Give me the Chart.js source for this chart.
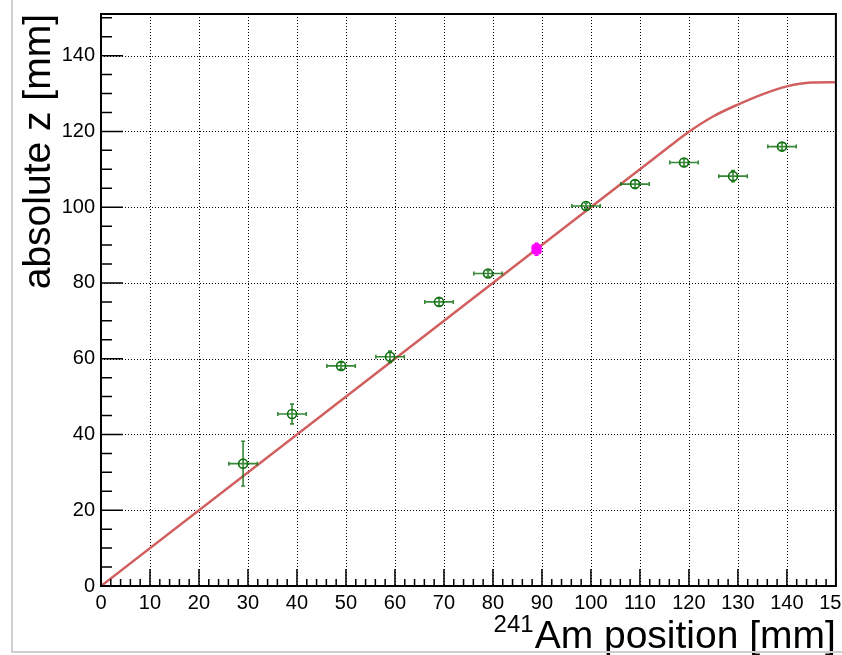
<!DOCTYPE html>
<html>
<head>
<meta charset="utf-8">
<script src="https://cdn.jsdelivr.net/npm/chart.js@4/dist/chart.umd.min.js"></script>
<style>
  html, body { margin: 0; padding: 0; background: #fff; }
  canvas { display: block; }
</style>
</head>
<body>
<canvas id="zChart" width="842" height="655"></canvas>
<script>
// measured source positions (green) with errors
const posX = [29, 39, 49, 59, 69, 79, 99, 109, 119, 129, 139]
const posXErr = [2.9, 2.9, 2.9, 2.9, 2.9, 2.9, 2.9, 2.9, 2.9, 2.9, 2.9]
const zVal = [32.3, 45.4, 58.1, 60.5, 75.0, 82.5, 100.3, 106.1, 111.8, 108.2, 116.0]
const zErr = [5.9, 2.6, 0.9, 1.5, 1.0, 0.8, 0.8, 1.0, 1.0, 1.5, 1.0]

// reference point (magenta)
const refX = [88.9]
const refZ = [88.9]
const refZErr = [1.6]

// expected curve
const curveX = [0, 60, 110, 116, 120, 125, 130, 135, 140, 145, 150]
const curveZ = [0, 60, 110, 116, 119.9, 124.0, 127.1, 129.8, 131.9, 132.9, 133.0]

// axis ticks
const xTicks = [0, 10, 20, 30, 40, 50, 60, 70, 80, 90, 100, 110, 120, 130, 140, 150]
const yTicks = [0, 20, 40, 60, 80, 100, 120, 140]
const xMax = 150
const yMax = 151

const FONT = '"Liberation Sans", Arial, Helvetica, sans-serif'

const errorBars = (ctx, x, y, xs, ys, xe, ye, color) => {
    ctx.save()
    ctx.strokeStyle = color
    ctx.lineWidth = 1.6
    xs.forEach((v, i) => {
        const cx = x.getPixelForValue(v)
        const cy = y.getPixelForValue(ys[i])
        const ex = xe[i] || 0
        const ey = ye[i] || 0
        ctx.beginPath()
        if (ex > 0) {
            const l = x.getPixelForValue(v - ex), r = x.getPixelForValue(v + ex)
            ctx.moveTo(l, cy); ctx.lineTo(r, cy)
            ctx.moveTo(l, cy - 2); ctx.lineTo(l, cy + 2)
            ctx.moveTo(r, cy - 2); ctx.lineTo(r, cy + 2)
        }
        if (ey > 0) {
            const t = y.getPixelForValue(ys[i] + ey), b = y.getPixelForValue(ys[i] - ey)
            ctx.moveTo(cx, t); ctx.lineTo(cx, b)
            ctx.moveTo(cx - 2, t); ctx.lineTo(cx + 2, t)
            ctx.moveTo(cx - 2, b); ctx.lineTo(cx + 2, b)
        }
        ctx.stroke()
    })
    ctx.restore()
}

const frameAndAxes = {
    id: 'frameAndAxes',
    beforeDraw(chart) {
        const { ctx, width, height } = chart
        ctx.save()
        ctx.fillStyle = '#fff'
        ctx.fillRect(0, 0, width, height)
        ctx.restore()
    },
    beforeDatasetsDraw(chart) {
        const { ctx, chartArea: a, scales: { x, y } } = chart
        ctx.save()
        // dotted grid
        ctx.strokeStyle = '#000'
        ctx.lineWidth = 1
        ctx.setLineDash([1, 2])
        ctx.beginPath()
        xTicks.forEach(v => {
            if (v <= 0 || v >= xMax) return
            const px = Math.round(x.getPixelForValue(v)) + 0.5
            ctx.moveTo(px, a.top); ctx.lineTo(px, a.bottom)
        })
        yTicks.forEach(v => {
            if (v <= 0 || v >= yMax) return
            const py = Math.round(y.getPixelForValue(v)) + 0.5
            ctx.moveTo(a.left, py); ctx.lineTo(a.right, py)
        })
        ctx.stroke()
        ctx.restore()
    },
    afterDatasetDraw(chart, args) {
        const { ctx, scales: { x, y } } = chart
        if (args.index === 1) errorBars(ctx, x, y, posX, zVal, posXErr, zErr, 'rgba(20,115,20,0.85)')
        if (args.index === 2) errorBars(ctx, x, y, refX, refZ, [0], refZErr, '#ff00ff')
    },
    afterDraw(chart) {
        const { ctx, chartArea: a, scales: { x, y } } = chart
        ctx.save()
        ctx.strokeStyle = '#000'
        ctx.lineWidth = 1.5
        ctx.beginPath()
        // minor + major ticks, inside the frame
        for (let v = 0; v <= xMax; v += 2) {
            const px = x.getPixelForValue(v)
            const len = v % 10 === 0 ? 17 : 7
            ctx.moveTo(px, a.bottom); ctx.lineTo(px, a.bottom - len)
        }
        for (let v = 0; v <= yMax; v += 5) {
            const py = y.getPixelForValue(v)
            const len = v % 20 === 0 ? 22 : 11
            ctx.moveTo(a.left, py); ctx.lineTo(a.left + len, py)
        }
        ctx.stroke()

        // frame
        ctx.lineWidth = 2
        ctx.strokeRect(a.left, a.top, a.right - a.left, a.bottom - a.top)

        // tick labels
        ctx.fillStyle = '#000'
        ctx.font = '20px ' + FONT
        ctx.textAlign = 'center'
        ctx.textBaseline = 'top'
        xTicks.forEach(v => ctx.fillText(String(v), x.getPixelForValue(v), a.bottom + 7))
        ctx.textAlign = 'right'
        ctx.textBaseline = 'middle'
        yTicks.forEach(v => ctx.fillText(String(v), a.left - 6, y.getPixelForValue(v)))

        // x title with superscript
        ctx.textBaseline = 'alphabetic'
        ctx.font = '39px ' + FONT
        const main = 'Am position [mm]'
        const mainW = ctx.measureText(main).width
        ctx.fillText(main, a.right, 648)
        ctx.font = '24px ' + FONT
        ctx.fillText('241', a.right - mainW - 1, 632)

        // y title
        ctx.save()
        ctx.translate(50, a.top)
        ctx.rotate(-Math.PI / 2)
        ctx.font = '39px ' + FONT
        ctx.textAlign = 'right'
        ctx.fillText('absolute z [mm]', 0, 0)
        ctx.restore()

        // canvas edge
        ctx.strokeStyle = '#cfcfcf'
        ctx.lineWidth = 2
        ctx.beginPath()
        ctx.moveTo(12, 0); ctx.lineTo(12, 652); ctx.lineTo(842, 652)
        ctx.stroke()
        ctx.restore()
    }
}

const renderChart = () => {
    const data = {
        datasets: [{
            type: 'line',
            data: curveX.map((v, i) => ({ x: v, y: curveZ[i] })),
            borderColor: '#d25f5f',
            borderWidth: 2.5,
            pointRadius: 0,
            cubicInterpolationMode: 'monotone',
            fill: false,
            order: 3
        }, {
            data: posX.map((v, i) => ({ x: v, y: zVal[i] })),
            pointStyle: 'circle',
            pointRadius: 4.5,
            borderWidth: 1.6,
            borderColor: '#0f6e0f',
            backgroundColor: 'rgba(0,0,0,0)',
            order: 2
        }, {
            data: refX.map((v, i) => ({ x: v, y: refZ[i] })),
            pointStyle: 'rectRounded',
            pointRadius: 6,
            borderWidth: 0,
            borderColor: '#ff00ff',
            backgroundColor: '#ff00ff',
            order: 1
        }]
    }

    const options = {
        responsive: false,
        animation: false,
        layout: { padding: { left: 101, top: 14, right: 4, bottom: 69 } },
        plugins: {
            legend: { display: false },
            tooltip: { enabled: false }
        },
        scales: {
            x: {
                type: 'linear', min: 0, max: xMax,
                ticks: { display: false, stepSize: 10 },
                grid: { display: false, drawTicks: false },
                border: { display: false }
            },
            y: {
                type: 'linear', min: 0, max: yMax,
                ticks: { display: false, stepSize: 20 },
                grid: { display: false, drawTicks: false },
                border: { display: false }
            }
        }
    }

    new Chart('zChart', { type: 'scatter', data, options, plugins: [frameAndAxes] })
}

renderChart()
</script>
</body>
</html>
